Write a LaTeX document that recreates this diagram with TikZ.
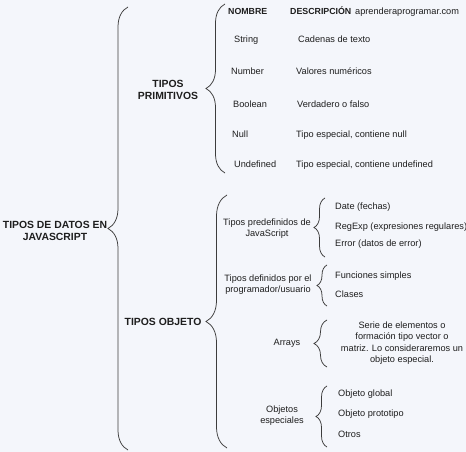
\documentclass[tikz,border=0pt]{standalone}
\usepackage{fontspec}
\setmainfont{Liberation Sans}
\usetikzlibrary{decorations.pathreplacing}
\definecolor{bgcol}{RGB}{244,246,251}
\definecolor{inkcol}{RGB}{30,30,30}
\definecolor{bracecol}{RGB}{60,60,60}
\begin{document}
\begin{tikzpicture}[x=1pt,y=-1pt,
  bracket/.style={draw=bracecol,line width=0.75pt,decorate,decoration={brace,amplitude=#1}},
  item/.style={anchor=west,inner sep=0pt,text=inkcol,font=\fontsize{9.2}{11}\selectfont,text height=7pt,text depth=2pt},
  group/.style={align=center,inner sep=0pt,text=inkcol,font=\fontsize{9.2}{11}\selectfont},
  head/.style={align=center,inner sep=0pt,text=inkcol,font=\bfseries\fontsize{10.4}{12.5}\selectfont},
  colhead/.style={anchor=west,inner sep=0pt,text=inkcol,font=\bfseries\fontsize{8.8}{11}\selectfont,text height=7pt,text depth=2pt}]
  % canvas
  \fill[bgcol] (0,0) rectangle (466,452);
  \useasboundingbox (0,0) rectangle (466,452);

  % root
  \node[head] (root) at (55,231) {TIPOS DE DATOS EN\\JAVASCRIPT};
  \coordinate (rootB) at (128,450);
  \coordinate (rootT) at (128,7);
  \draw[bracket=20] (rootB) -- (rootT);

  % primitive types
  \node[head] (prim) at (168,90) {TIPOS\\PRIMITIVOS};
  \coordinate (primB) at (225,173);
  \coordinate (primT) at (225,4);
  \draw[bracket=19] (primB) -- (primT);

  \node[colhead] (nombre) at (228,12) {NOMBRE};
  \node[colhead] (descr) at (290,12) {DESCRIPCIÓN};
  \node[item] (site) at (355,12) {aprenderaprogramar.com};
  \node[item] (tString) at (234,40) {String};
  \node[item] (dString) at (298,40) {Cadenas de texto};
  \node[item] (tNumber) at (231,72) {Number};
  \node[item] (dNumber) at (296,72) {Valores numéricos};
  \node[item] (tBoolean) at (233,105) {Boolean};
  \node[item] (dBoolean) at (297,105) {Verdadero o falso};
  \node[item] (tNull) at (232,135) {Null};
  \node[item] (dNull) at (296,135) {Tipo especial, contiene null};
  \node[item] (tUndef) at (234,165) {Undefined};
  \node[item] (dUndef) at (296,165) {Tipo especial, contiene undefined};

  % object types
  \node[head] (obj) at (163,322) {TIPOS OBJETO};
  \coordinate (objB) at (227,448);
  \coordinate (objT) at (227,195);
  \draw[bracket=21] (objB) -- (objT);

  % predefined
  \node[group] (predef) at (267,229) {Tipos predefinidos de\\JavaScript};
  \coordinate (predefB) at (325,257);
  \coordinate (predefT) at (325,198);
  \draw[bracket=11] (predefB) -- (predefT);
  \node[item] (date) at (335,207) {Date (fechas)};
  \node[item] (regexp) at (335,227) {RegExp (expresiones regulares)};
  \node[item] (error) at (335,244) {Error (datos de error)};

  % user defined
  \node[group] (userdef) at (268,285) {Tipos definidos por el\\programador/usuario};
  \coordinate (userdefB) at (327,306);
  \coordinate (userdefT) at (327,265);
  \draw[bracket=10] (userdefB) -- (userdefT);
  \node[item] (funcs) at (335,276) {Funciones simples};
  \node[item] (clases) at (335,295) {Clases};

  % arrays
  \node[group] (arrays) at (287,343) {Arrays};
  \coordinate (arraysB) at (327,367);
  \coordinate (arraysT) at (327,320);
  \draw[bracket=13] (arraysB) -- (arraysT);
  \node[group,font=\fontsize{9.2}{11.3}\selectfont] (arrdesc) at (402,343) {Serie de elementos o\\formación tipo vector o\\matriz. Lo consideraremos un\\objeto especial.};

  % special objects
  \node[group] (special) at (282,416) {Objetos\\especiales};
  \coordinate (specialB) at (327,447);
  \coordinate (specialT) at (327,386);
  \draw[bracket=11] (specialB) -- (specialT);
  \node[item] (global) at (338,394) {Objeto global};
  \node[item] (proto) at (338,414) {Objeto prototipo};
  \node[item] (otros) at (338,435) {Otros};
\end{tikzpicture}
\end{document}
